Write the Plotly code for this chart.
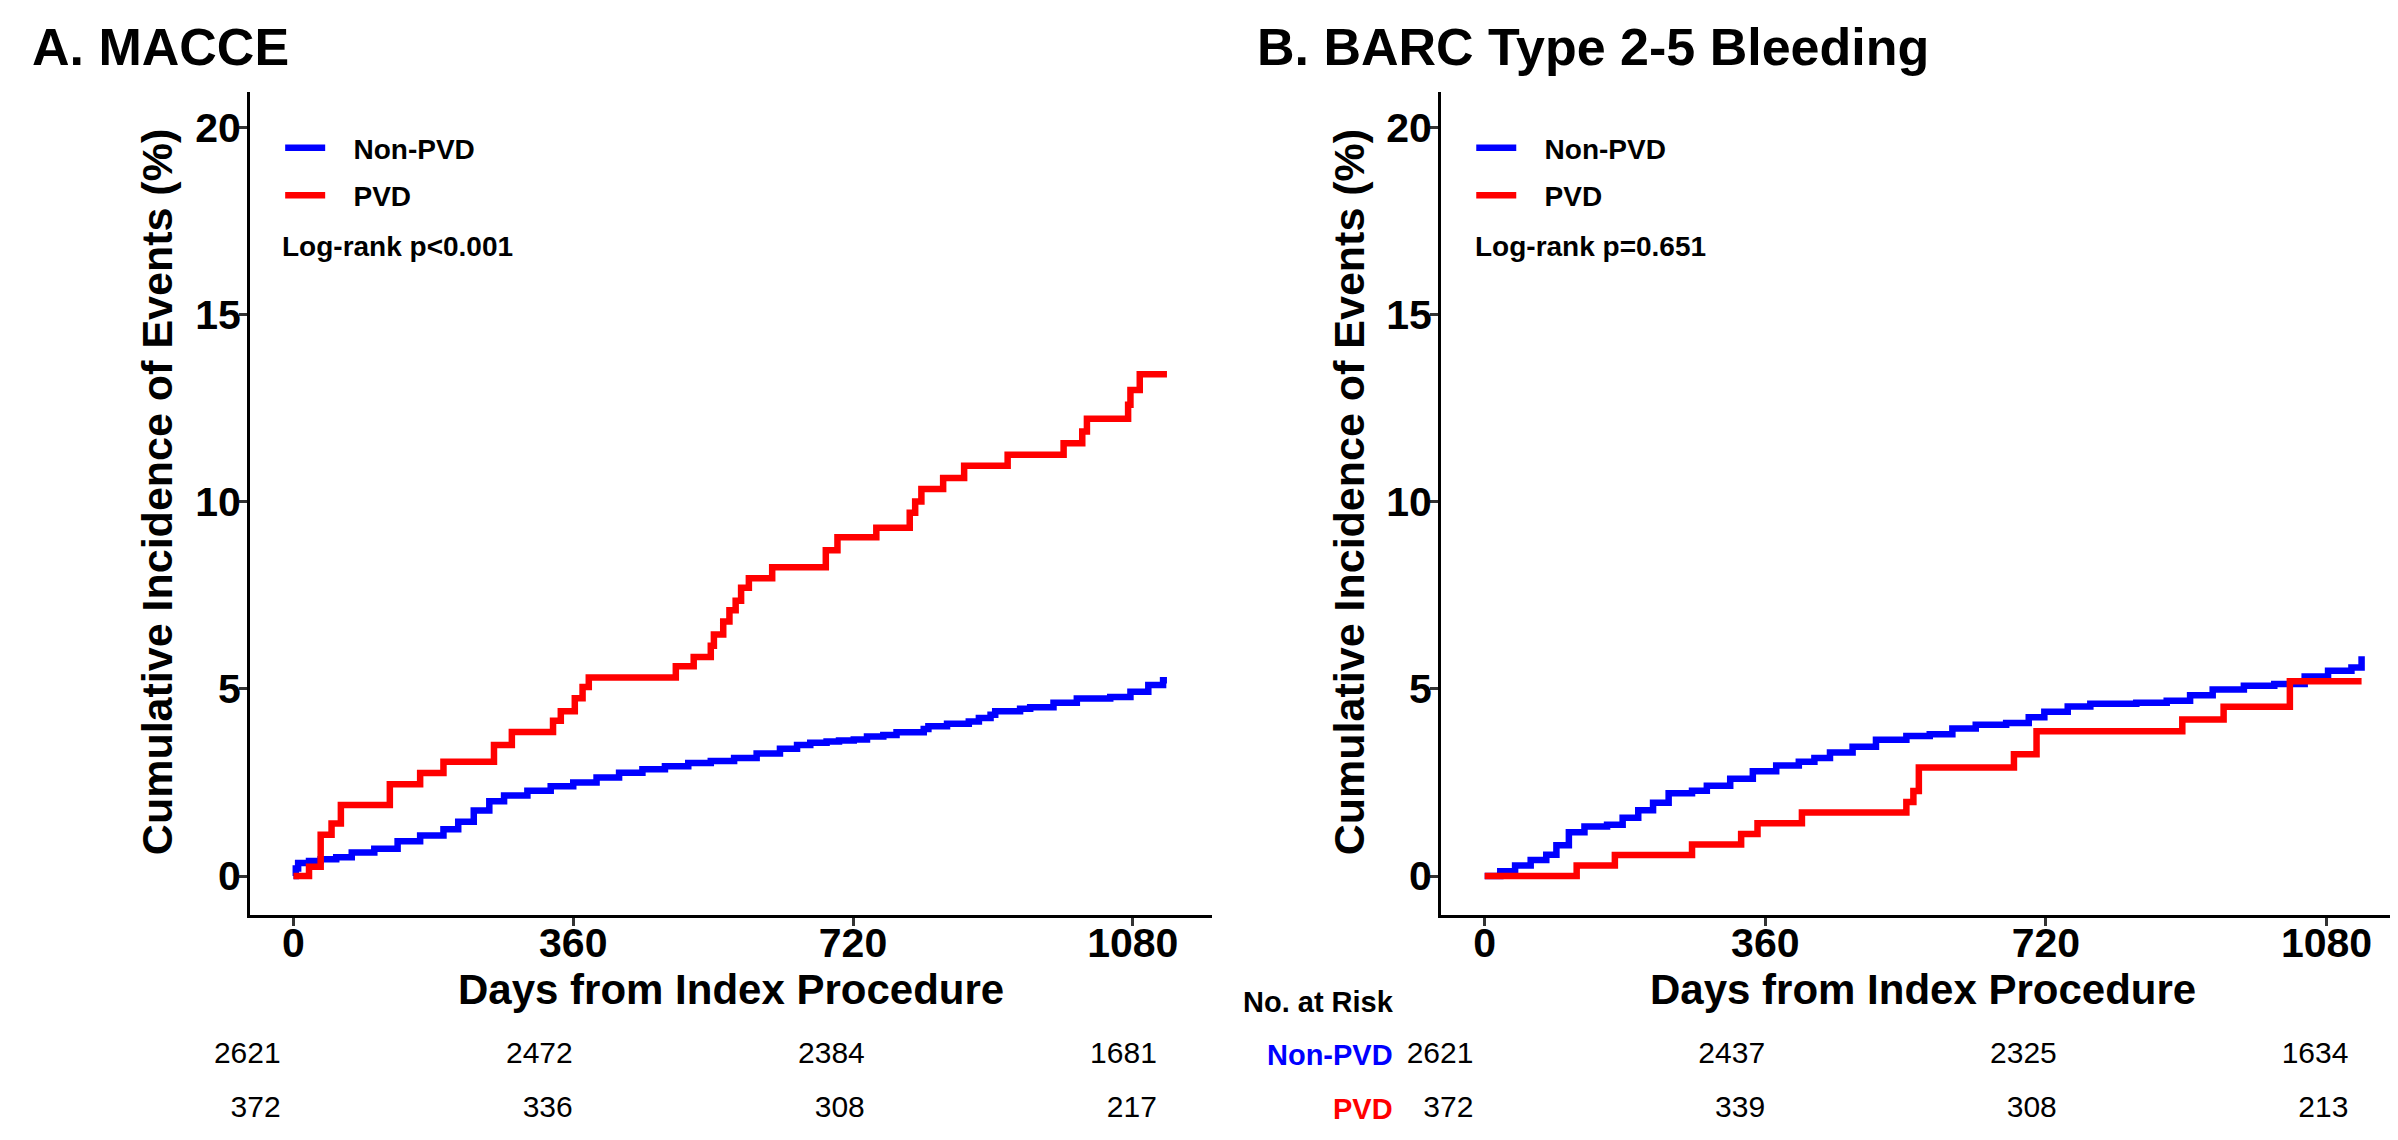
import plotly.graph_objects as go

# ---------------- data ----------------
TICK_DAYS = [0, 360, 720, 1080]
Y_TICKS = [0, 5, 10, 15, 20]

# Panel A: MACCE
macce_nonpvd_days = [0, 3, 6, 20, 35, 55, 75, 104, 134, 163, 193, 212, 232, 252, 271, 301, 331, 360, 390, 419,
                     449, 478, 508, 537, 567, 596, 626, 648, 665, 686, 702, 721, 738, 759, 776, 811, 817, 841, 869, 882,
                     897, 903, 935, 948, 978, 1008, 1051, 1077, 1100, 1119, 1124]
macce_nonpvd_vals = [0, 0.2, 0.35, 0.4, 0.45, 0.5, 0.63, 0.73, 0.93, 1.08, 1.25, 1.45, 1.75, 2.0, 2.15, 2.28, 2.4, 2.5, 2.63, 2.76,
                     2.85, 2.93, 3.02, 3.07, 3.15, 3.27, 3.4, 3.5, 3.56, 3.59, 3.62, 3.65, 3.73, 3.77, 3.84, 3.93, 4.0, 4.07, 4.13, 4.22,
                     4.31, 4.4, 4.47, 4.51, 4.63, 4.74, 4.78, 4.92, 5.1, 5.23, 5.23]
macce_pvd_days = [0, 20, 35, 49, 61, 124, 163, 193, 258, 281, 334, 344, 362, 372, 380, 492, 515, 537, 541, 553,
                  561, 569, 576, 586, 616, 685, 700, 750, 793, 800, 808, 836, 863, 919, 991, 1015, 1021, 1074, 1077, 1089, 1124]
macce_pvd_vals = [0, 0.25, 1.1, 1.4, 1.9, 2.45, 2.75, 3.05, 3.5, 3.85, 4.15, 4.4, 4.75, 5.05, 5.3, 5.6, 5.85, 6.15, 6.45, 6.8,
                  7.1, 7.35, 7.7, 7.95, 8.25, 8.7, 9.05, 9.3, 9.7, 10.0, 10.34, 10.63, 10.96, 11.25, 11.56, 11.87, 12.21, 12.59, 12.98, 13.4, 13.4]

# Panel B: BARC type 2-5 bleeding
bleed_nonpvd_days = [0, 20, 39, 59, 79, 92, 108, 128, 157, 177, 197, 216, 236, 266, 285, 315, 344, 374, 403, 423,
                     443, 472, 502, 541, 571, 600, 630, 669, 698, 718, 748, 777, 836, 875, 905, 934, 974, 1013, 1052, 1082,
                     1112, 1125]
bleed_nonpvd_vals = [0, 0.13, 0.28, 0.43, 0.57, 0.82, 1.17, 1.32, 1.37, 1.56, 1.76, 1.96, 2.21, 2.28, 2.41, 2.6, 2.8, 2.95, 3.05, 3.15,
                     3.3, 3.45, 3.64, 3.74, 3.79, 3.94, 4.04, 4.09, 4.24, 4.39, 4.53, 4.6, 4.63, 4.68, 4.83, 4.98, 5.08, 5.13, 5.33, 5.48,
                     5.57, 5.87]
bleed_pvd_days = [0, 118, 167, 266, 329, 350, 407, 541, 550, 557, 679, 708, 895, 948, 1033, 1125]
bleed_pvd_vals = [0, 0.28, 0.56, 0.84, 1.12, 1.41, 1.7, 1.98, 2.27, 2.9, 3.25, 3.87, 4.18, 4.52, 5.2, 5.2]

# Numbers at risk
risk_days = [0, 360, 720, 1080]
macce_risk_nonpvd = [2621, 2472, 2384, 1681]
macce_risk_pvd = [372, 336, 308, 217]
bleed_risk_nonpvd = [2621, 2437, 2325, 1634]
bleed_risk_pvd = [372, 339, 308, 213]

groups = ["Non-PVD", "PVD"]
panel_titles = ["A. MACCE", "B. BARC Type 2-5 Bleeding"]
pvalues = ["Log-rank p<0.001", "Log-rank p=0.651"]
y_title = "Cumulative Incidence of Events (%)"
x_title = "Days from Index Procedure"

# ---------------- styling ----------------
W, H = 2398, 1140
FONT = "Liberation Sans, Arial, Helvetica, sans-serif"
BLUE = "#0000FF"
RED = "#FF0000"
LW = 6.5
PAD = "\u00a0\u00a0\u00a0"

fig = go.Figure()

def add_curves(days_b, vals_b, days_r, vals_r, xa, ya, leg):
    fig.add_trace(go.Scatter(x=days_b, y=vals_b, mode="lines", line=dict(color=BLUE, width=LW, shape="hv"),
                             name=PAD + groups[0], xaxis=xa, yaxis=ya, legend=leg, legendgroup=leg + "a"))
    fig.add_trace(go.Scatter(x=days_r, y=vals_r, mode="lines", line=dict(color=RED, width=LW, shape="hv"),
                             name=PAD + groups[1], xaxis=xa, yaxis=ya, legend=leg, legendgroup=leg + "b"))

add_curves(macce_nonpvd_days, macce_nonpvd_vals, macce_pvd_days, macce_pvd_vals, "x", "y", "legend")
add_curves(bleed_nonpvd_days, bleed_nonpvd_vals, bleed_pvd_days, bleed_pvd_vals, "x2", "y2", "legend2")

def add_table(nonpvd, pvd, xa, ya):
    for vals, yv in ((nonpvd, 1), (pvd, 0)):
        fig.add_trace(go.Scatter(x=risk_days, y=[yv] * len(risk_days), mode="text",
                                 text=[str(v) for v in vals], textposition="middle left",
                                 textfont=dict(family=FONT, size=30, color="black"),
                                 xaxis=xa, yaxis=ya, showlegend=False, cliponaxis=False, hoverinfo="skip"))

add_table(macce_risk_nonpvd, macce_risk_pvd, "x3", "y3")
add_table(bleed_risk_nonpvd, bleed_risk_pvd, "x4", "y4")

tickfont = dict(family=FONT, size=41, color="black", weight="bold")
axis_common = dict(showline=True, linewidth=3, linecolor="black", ticks="outside", ticklen=8, tickwidth=3,
                   tickcolor="#333333", showgrid=False, zeroline=False, tickfont=tickfont)

YDOM = [0.2044, 0.926]
XR = [-56, 1182]
YR = [-1.04, 20.93]

hidden = dict(visible=False, showgrid=False, zeroline=False, fixedrange=True)
TDOM = [0.034, 0.0815]

fig.update_layout(
    width=W, height=H, margin=dict(l=0, r=0, t=0, b=0),
    paper_bgcolor="white", plot_bgcolor="white",
    font=dict(family=FONT, color="black"),
    xaxis=dict(domain=[0.1009, 0.5021], range=XR, tickvals=TICK_DAYS, anchor="y", ticklabelstandoff=-18, **axis_common),
    yaxis=dict(domain=YDOM, range=YR, tickvals=Y_TICKS, anchor="x", ticklabelstandoff=-10, **axis_common),
    xaxis2=dict(domain=[0.5976, 1.0], range=XR, tickvals=TICK_DAYS, anchor="y2", ticklabelstandoff=-18, **axis_common),
    yaxis2=dict(domain=YDOM, range=YR, tickvals=Y_TICKS, anchor="x2", ticklabelstandoff=-10, **axis_common),
    xaxis3=dict(domain=[0.1137, 0.4791], range=[0, 1080], anchor="y3", **hidden),
    yaxis3=dict(domain=TDOM, range=[0, 1], anchor="x3", **hidden),
    xaxis4=dict(domain=[0.6111, 0.9760], range=[0, 1080], anchor="y4", **hidden),
    yaxis4=dict(domain=TDOM, range=[0, 1], anchor="x4", **hidden),
    legend=dict(x=0.1135, y=0.899, xanchor="left", yanchor="top", bgcolor="rgba(0,0,0,0)",
                font=dict(family=FONT, size=28, color="black", weight="bold"),
                traceorder="grouped", tracegroupgap=8, itemwidth=40),
    legend2=dict(x=0.6102, y=0.899, xanchor="left", yanchor="top", bgcolor="rgba(0,0,0,0)",
                 font=dict(family=FONT, size=28, color="black", weight="bold"),
                 traceorder="grouped", tracegroupgap=8, itemwidth=40),
)

ann = []
# panel titles
ann.append(dict(text="<b>%s</b>" % panel_titles[0], x=0.009, y=0.966, xref="paper", yref="paper",
                xanchor="left", yanchor="middle", showarrow=False, font=dict(size=52, family=FONT)))
ann.append(dict(text="<b>%s</b>" % panel_titles[1], x=0.520, y=0.966, xref="paper", yref="paper",
                xanchor="left", yanchor="middle", showarrow=False, font=dict(size=52, family=FONT)))
# p-values
ann.append(dict(text="<b>%s</b>" % pvalues[0], x=0.1135, y=0.791, xref="paper", yref="paper",
                xanchor="left", yanchor="middle", showarrow=False, font=dict(size=28, family=FONT)))
ann.append(dict(text="<b>%s</b>" % pvalues[1], x=0.6108, y=0.791, xref="paper", yref="paper",
                xanchor="left", yanchor="middle", showarrow=False, font=dict(size=28, family=FONT)))
# axis titles
for xc in (0.0620, 0.5591):
    ann.append(dict(text="<b>%s</b>" % y_title, x=xc, y=0.575, xref="paper", yref="paper", textangle=-90,
                    xanchor="center", yanchor="middle", showarrow=False, font=dict(size=43, family=FONT)))
for xc in (0.3016, 0.7985):
    ann.append(dict(text="<b>%s</b>" % x_title, x=xc, y=0.139, xref="paper", yref="paper",
                    xanchor="center", yanchor="middle", showarrow=False, font=dict(size=42, family=FONT)))
# risk table labels
ann.append(dict(text="<b>No. at Risk</b>", x=0.5465, y=0.1285, xref="paper", yref="paper",
                xanchor="center", yanchor="middle", showarrow=False, font=dict(size=29, family=FONT)))
ann.append(dict(text="<b>%s</b>" % groups[0], x=0.5784, y=TDOM[1], xref="paper", yref="paper",
                xanchor="right", yanchor="middle", showarrow=False, font=dict(size=29, family=FONT, color=BLUE)))
ann.append(dict(text="<b>%s</b>" % groups[1], x=0.5784, y=TDOM[0], xref="paper", yref="paper",
                xanchor="right", yanchor="middle", showarrow=False, font=dict(size=29, family=FONT, color=RED)))
fig.update_layout(annotations=ann)

fig.write_html("out.html")
